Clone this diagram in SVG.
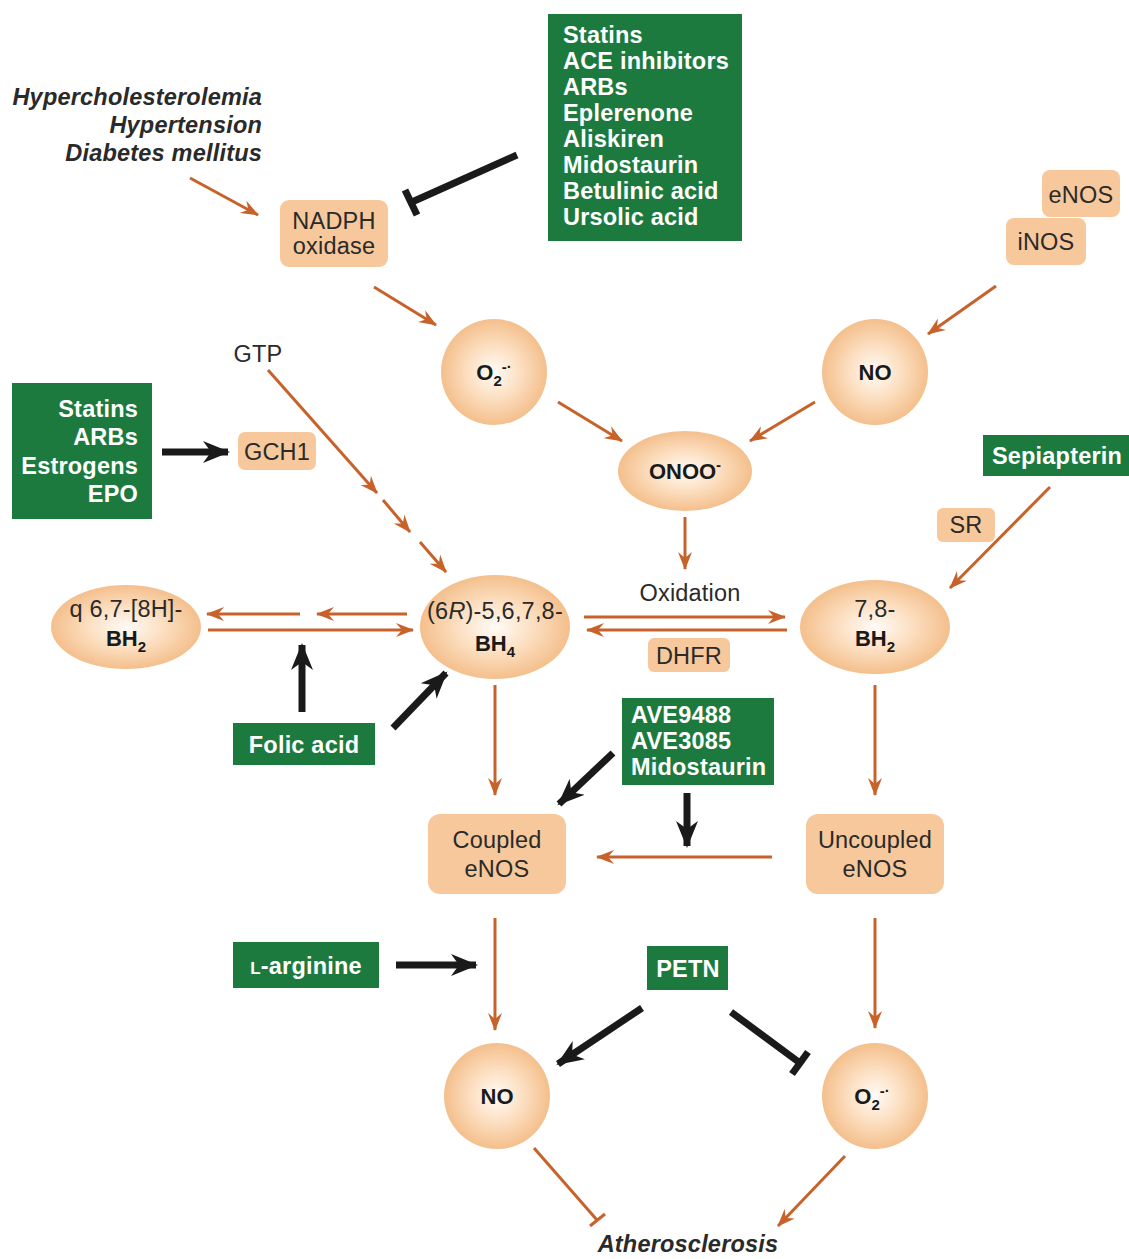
<svg xmlns="http://www.w3.org/2000/svg" width="1129" height="1259" viewBox="0 0 1129 1259">
<defs>
<radialGradient id="glow" cx="50%" cy="50%" r="50%">
<stop offset="0%" stop-color="#fffbf7"/>
<stop offset="50%" stop-color="#fcdfc1"/>
<stop offset="100%" stop-color="#f4bf8c"/>
</radialGradient>
<marker id="oa" markerUnits="userSpaceOnUse" markerWidth="20" markerHeight="16" refX="17" refY="8" orient="auto" viewBox="0 0 20 16">
<path d="M0,1 L18,8 L0,15 L6,8 z" fill="#c6622a"/>
</marker>
<marker id="ba" markerUnits="userSpaceOnUse" markerWidth="28" markerHeight="24" refX="25" refY="12" orient="auto" viewBox="0 0 28 24">
<path d="M0,1 L27,12 L0,23 L8,12 z" fill="#1a1a1a"/>
</marker>
<style>
.o{stroke:#c6622a;stroke-width:3;fill:none}
.oa{marker-end:url(#oa)}
.b{stroke:#1a1a1a;stroke-width:7;fill:none}
.ba{marker-end:url(#ba)}
.box{fill:#f7c89b}
.g{fill:#1d7a3f}
.gt{font-family:"Liberation Sans",Arial,sans-serif;font-weight:bold;font-size:23.5px;letter-spacing:0.2px;fill:#fff}
.t{font-family:"Liberation Sans",Arial,sans-serif;font-size:23.5px;letter-spacing:0.2px;fill:#2a2a2a}
.tb{font-family:"Liberation Sans",Arial,sans-serif;font-size:22px;font-weight:bold;fill:#1a1a1a}
.it{font-family:"Liberation Sans",Arial,sans-serif;font-size:23.5px;letter-spacing:0.2px;font-weight:bold;font-style:italic;fill:#2a2a2a}
.c{text-anchor:middle}
.r{text-anchor:end}
.sub{font-size:15px}
</style>
</defs>
<rect width="1129" height="1259" fill="#fff"/>

<g id="risk">
<text class="it r" x="262" y="105">Hypercholesterolemia</text>
<text class="it r" x="262" y="133">Hypertension</text>
<text class="it r" x="262" y="161">Diabetes mellitus</text>
</g>

<g id="nadph">
<rect class="box" x="280" y="200" width="108" height="67" rx="9"/>
<text class="t c" x="334" y="229" font-size="22.5px">NADPH</text>
<text class="t c" x="334" y="254" font-size="22.5px">oxidase</text>
</g>

<g id="drugs-top">
<rect class="g" x="548" y="14" width="194" height="227"/>
<text class="gt" x="563" y="43">Statins</text>
<text class="gt" x="563" y="69">ACE inhibitors</text>
<text class="gt" x="563" y="95">ARBs</text>
<text class="gt" x="563" y="121">Eplerenone</text>
<text class="gt" x="563" y="147">Aliskiren</text>
<text class="gt" x="563" y="173">Midostaurin</text>
<text class="gt" x="563" y="199">Betulinic acid</text>
<text class="gt" x="563" y="225">Ursolic acid</text>
</g>

<g id="enos-top">
<rect class="box" x="1042" y="170" width="78" height="47" rx="8"/>
<text class="t c" x="1081" y="203">eNOS</text>
</g>
<g id="inos-top">
<rect class="box" x="1006" y="218" width="80" height="47" rx="8"/>
<text class="t c" x="1046" y="250">iNOS</text>
</g>

<g id="o2-top">
<circle cx="494" cy="372" r="53" fill="url(#glow)"/>
<text class="tb c" x="494" y="380">O<tspan class="sub" dy="6">2</tspan><tspan class="sub" dy="-14">-·</tspan></text>
</g>
<g id="no-top">
<circle cx="875" cy="372" r="53" fill="url(#glow)"/>
<text class="tb c" x="875" y="380">NO</text>
</g>

<g id="onoo">
<ellipse cx="685" cy="471" rx="67" ry="40" fill="url(#glow)"/>
<text class="tb c" x="685" y="479">ONOO<tspan class="sub" dy="-9">-</tspan></text>
</g>

<g id="gtp">
<text class="t c" x="258" y="362">GTP</text>
</g>

<g id="drugs-left">
<rect class="g" x="12" y="383" width="140" height="136"/>
<text class="gt r" x="138" y="417">Statins</text>
<text class="gt r" x="138" y="445">ARBs</text>
<text class="gt r" x="138" y="474">Estrogens</text>
<text class="gt r" x="138" y="502">EPO</text>
</g>

<g id="gch1">
<rect class="box" x="238" y="432" width="78" height="38" rx="7"/>
<text class="t c" x="277" y="460">GCH1</text>
</g>

<g id="qbh2">
<ellipse cx="126" cy="627" rx="75" ry="42" fill="url(#glow)"/>
<text class="t c" x="126" y="617">q 6,7-[8H]-</text>
<text class="tb c" x="126" y="646">BH<tspan class="sub" dy="6">2</tspan></text>
</g>

<g id="bh4">
<ellipse cx="495" cy="627" rx="75" ry="52" fill="url(#glow)"/>
<text class="t c" x="495" y="619">(6<tspan font-style="italic">R</tspan>)-5,6,7,8-</text>
<text class="tb c" x="495" y="651">BH<tspan class="sub" dy="6">4</tspan></text>
</g>

<g id="oxidation">
<text class="t c" x="690" y="601">Oxidation</text>
</g>
<g id="dhfr">
<rect class="box" x="648" y="638" width="82" height="34" rx="6"/>
<text class="t c" x="689" y="664">DHFR</text>
</g>

<g id="bh2">
<ellipse cx="875" cy="627" rx="75" ry="47" fill="url(#glow)"/>
<text class="t c" x="875" y="617">7,8-</text>
<text class="tb c" x="875" y="646">BH<tspan class="sub" dy="6">2</tspan></text>
</g>

<g id="sepiapterin">
<rect class="g" x="983" y="435" width="146" height="41"/>
<text class="gt c" x="1057" y="464">Sepiapterin</text>
</g>
<g id="sr">
<rect class="box" x="937" y="508" width="58" height="34" rx="6"/>
<text class="t c" x="966" y="533">SR</text>
</g>

<g id="folic">
<rect class="g" x="233" y="723" width="142" height="42"/>
<text class="gt c" x="304" y="753">Folic acid</text>
</g>

<g id="ave">
<rect class="g" x="622" y="698" width="152" height="87"/>
<text class="gt" x="631" y="723">AVE9488</text>
<text class="gt" x="631" y="749">AVE3085</text>
<text class="gt" x="631" y="775">Midostaurin</text>
</g>

<g id="coupled">
<rect class="box" x="428" y="814" width="138" height="80" rx="12"/>
<text class="t c" x="497" y="848">Coupled</text>
<text class="t c" x="497" y="877">eNOS</text>
</g>
<g id="uncoupled">
<rect class="box" x="806" y="814" width="138" height="80" rx="12"/>
<text class="t c" x="875" y="848">Uncoupled</text>
<text class="t c" x="875" y="877">eNOS</text>
</g>

<g id="larginine">
<rect class="g" x="233" y="942" width="146" height="46"/>
<text class="gt c" x="306" y="974"><tspan font-size="17px">L</tspan>-arginine</text>
</g>

<g id="petn">
<rect class="g" x="647" y="946" width="81" height="44"/>
<text class="gt c" x="688" y="977">PETN</text>
</g>

<g id="no-bottom">
<circle cx="497" cy="1096" r="53" fill="url(#glow)"/>
<text class="tb c" x="497" y="1104">NO</text>
</g>
<g id="o2-bottom">
<circle cx="875" cy="1096" r="53" fill="url(#glow)"/>
<text class="tb c" x="872" y="1104">O<tspan class="sub" dy="6">2</tspan><tspan class="sub" dy="-14">-·</tspan></text>
</g>

<g id="athero">
<text class="it c" x="688" y="1252">Atherosclerosis</text>
</g>

<g id="connectors">
<line class="o oa" x1="190" y1="178" x2="258" y2="215"/>
<line class="b" x1="517" y1="155" x2="412" y2="202"/>
<line class="b" x1="405" y1="190" x2="417" y2="215"/>
<line class="o oa" x1="374" y1="287" x2="436" y2="325"/>
<line class="o oa" x1="996" y1="286" x2="928" y2="334"/>
<line class="o oa" x1="558" y1="402" x2="622" y2="441"/>
<line class="o oa" x1="815" y1="402" x2="750" y2="441"/>
<line class="o oa" x1="685" y1="517" x2="685" y2="569"/>
<line class="o oa" x1="268" y1="370" x2="377" y2="493"/>
<line class="o oa" x1="383" y1="500" x2="410" y2="532"/>
<line class="o oa" x1="420" y1="542" x2="446" y2="572"/>
<line class="b ba" x1="162" y1="452" x2="228" y2="452"/>
<line class="o oa" x1="300" y1="614" x2="207" y2="614"/>
<line class="o oa" x1="407" y1="614" x2="317" y2="614"/>
<line class="o oa" x1="208" y1="630" x2="413" y2="630"/>
<line class="b ba" x1="302" y1="712" x2="302" y2="645"/>
<line class="b ba" x1="393" y1="728" x2="446" y2="673"/>
<line class="o oa" x1="584" y1="617" x2="785" y2="617"/>
<line class="o oa" x1="787" y1="630" x2="587" y2="630"/>
<line class="o oa" x1="1050" y1="487" x2="950" y2="588"/>
<line class="o oa" x1="495" y1="685" x2="495" y2="795"/>
<line class="o oa" x1="875" y1="685" x2="875" y2="795"/>
<line class="b ba" x1="613" y1="753" x2="559" y2="804"/>
<line class="b ba" x1="687" y1="793" x2="687" y2="846"/>
<line class="o oa" x1="772" y1="857" x2="597" y2="857"/>
<line class="o oa" x1="495" y1="918" x2="495" y2="1030"/>
<line class="o oa" x1="875" y1="918" x2="875" y2="1028"/>
<line class="b ba" x1="396" y1="965" x2="476" y2="965"/>
<line class="b ba" x1="642" y1="1008" x2="558" y2="1064"/>
<line class="b" x1="731" y1="1012" x2="800" y2="1063"/>
<line class="b" x1="808" y1="1052" x2="792" y2="1074"/>
<line class="o" x1="534" y1="1148" x2="597" y2="1220"/>
<line class="o" x1="590" y1="1226" x2="605" y2="1214"/>
<line class="o oa" x1="845" y1="1156" x2="778" y2="1226"/>
</g>
</svg>
